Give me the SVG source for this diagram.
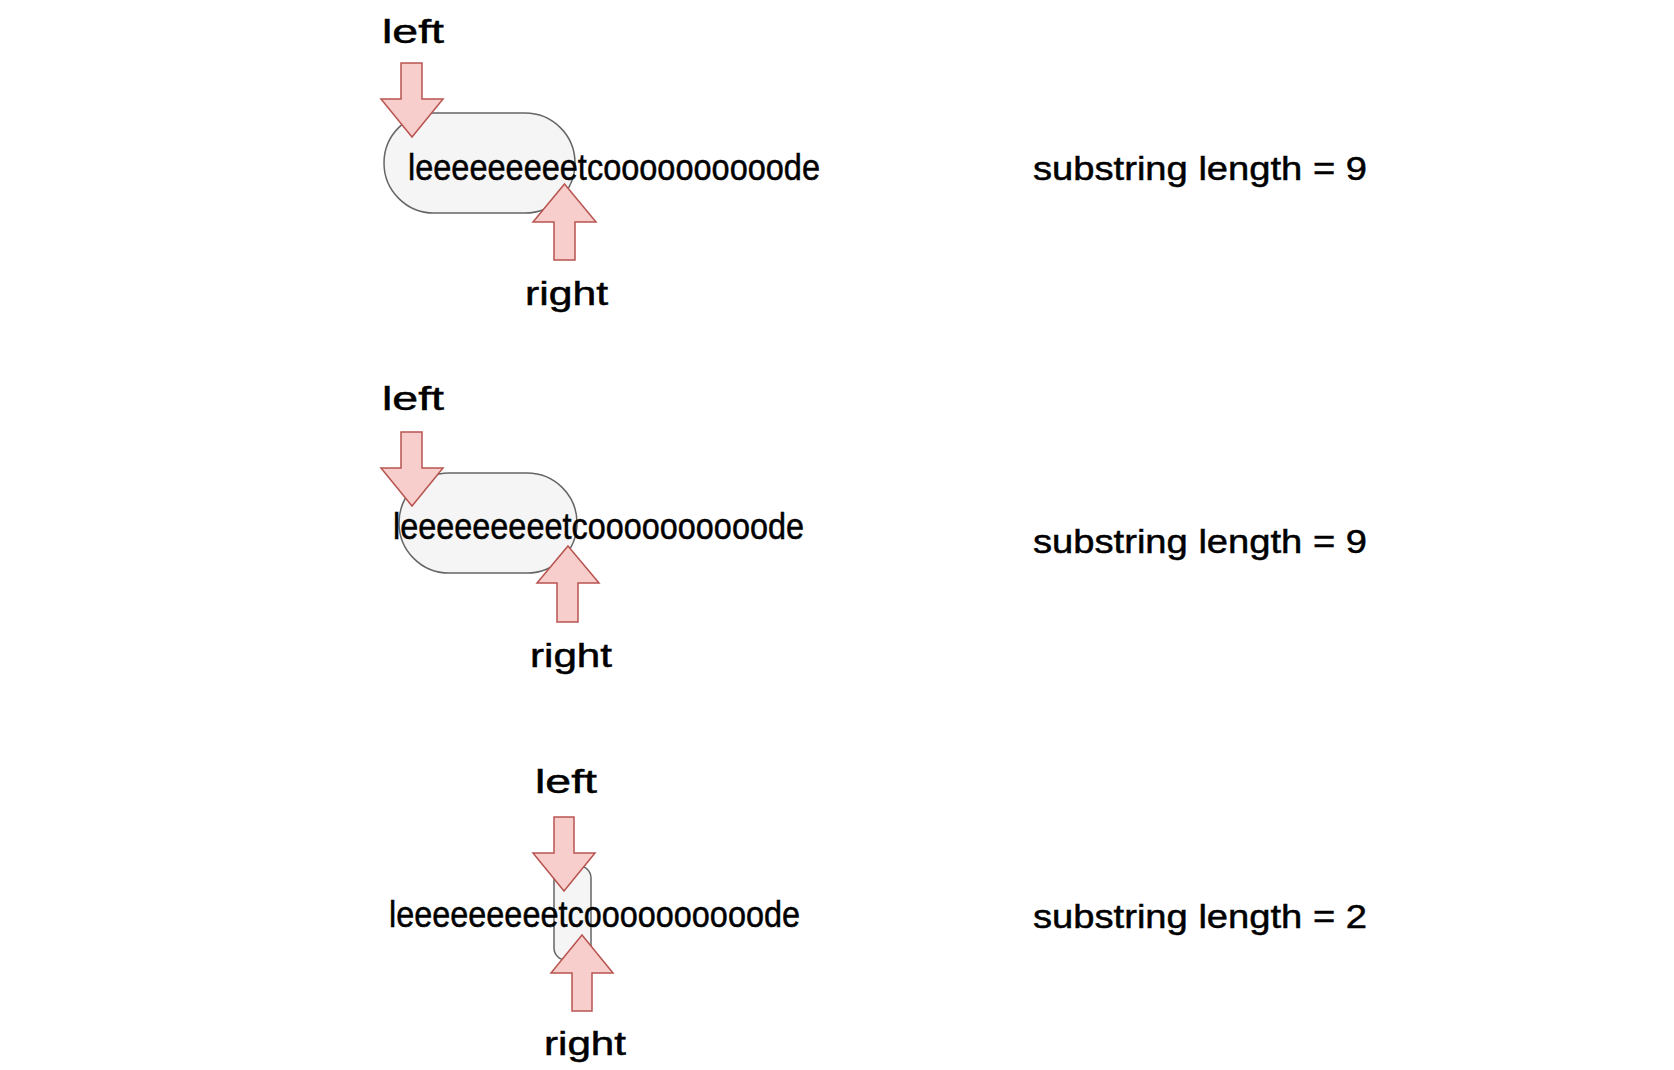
<svg xmlns="http://www.w3.org/2000/svg" width="1674" height="1070" viewBox="0 0 1674 1070">
<style>
.bg{fill:#ffffff}
.win{fill:#f5f5f5;stroke:#666666;stroke-width:1.5}
.arr{fill:#f8cecc;stroke:#b85450;stroke-width:1.5;stroke-linejoin:miter}
.t{font-family:"Comic Sans MS","Liberation Sans",Arial,sans-serif;font-size:34px;fill:#000000;stroke:#000000;stroke-width:0.5}
.s{font-size:36px}
</style>
<rect class="bg" x="0" y="0" width="1674" height="1070"/>
<g id="connectors"/>
<!-- Row 1 -->
<g id="row1-window"><rect class="win" x="384" y="113" width="191" height="100" rx="50" ry="50"/></g>
<g id="row1-string"><text class="t s" x="408" y="180" textLength="412" lengthAdjust="spacingAndGlyphs">leeeeeeeeetcoooooooooode</text></g>
<g id="row1-left-label"><text class="t" x="382" y="43" textLength="62" lengthAdjust="spacingAndGlyphs">left</text></g>
<g id="row1-left-arrow"><polygon class="arr" points="401,63 422,63 422,99 443,99 412,137 381,99 401,99"/></g>
<g id="row1-right-arrow"><polygon class="arr" points="564.5,184 596,222 575,222 575,260 554,260 554,222 533,222"/></g>
<g id="row1-right-label"><text class="t" x="525" y="305" textLength="83" lengthAdjust="spacingAndGlyphs">right</text></g>
<g id="row1-result"><text class="t" x="1033" y="180" textLength="334" lengthAdjust="spacingAndGlyphs">substring length = 9</text></g>
<!-- Row 2 -->
<g id="row2-window"><rect class="win" x="399" y="473" width="178" height="100" rx="50" ry="50"/></g>
<g id="row2-string"><text class="t s" x="393" y="539" textLength="411" lengthAdjust="spacingAndGlyphs">leeeeeeeeetcoooooooooode</text></g>
<g id="row2-left-label"><text class="t" x="382" y="410" textLength="62" lengthAdjust="spacingAndGlyphs">left</text></g>
<g id="row2-left-arrow"><polygon class="arr" points="401,432 422,432 422,468 443,468 412,506 381,468 401,468"/></g>
<g id="row2-right-arrow"><polygon class="arr" points="568,546 599,583 578,583 578,622 557,622 557,583 537,583"/></g>
<g id="row2-right-label"><text class="t" x="530" y="667" textLength="82" lengthAdjust="spacingAndGlyphs">right</text></g>
<g id="row2-result"><text class="t" x="1033" y="553" textLength="334" lengthAdjust="spacingAndGlyphs">substring length = 9</text></g>
<!-- Row 3 -->
<g id="row3-window"><rect class="win" x="554" y="866" width="37" height="94" rx="12" ry="12"/></g>
<g id="row3-string"><text class="t s" x="389" y="927" textLength="411" lengthAdjust="spacingAndGlyphs">leeeeeeeeetcoooooooooode</text></g>
<g id="row3-left-label"><text class="t" x="535" y="793" textLength="62" lengthAdjust="spacingAndGlyphs">left</text></g>
<g id="row3-left-arrow"><polygon class="arr" points="554,817 574,817 574,853 595,853 564,891 533,853 554,853"/></g>
<g id="row3-right-arrow"><polygon class="arr" points="582,935 613,973 592,973 592,1011 572,1011 572,973 551,973"/></g>
<g id="row3-right-label"><text class="t" x="544" y="1055" textLength="82" lengthAdjust="spacingAndGlyphs">right</text></g>
<g id="row3-result"><text class="t" x="1033" y="928" textLength="334" lengthAdjust="spacingAndGlyphs">substring length = 2</text></g>
</svg>
